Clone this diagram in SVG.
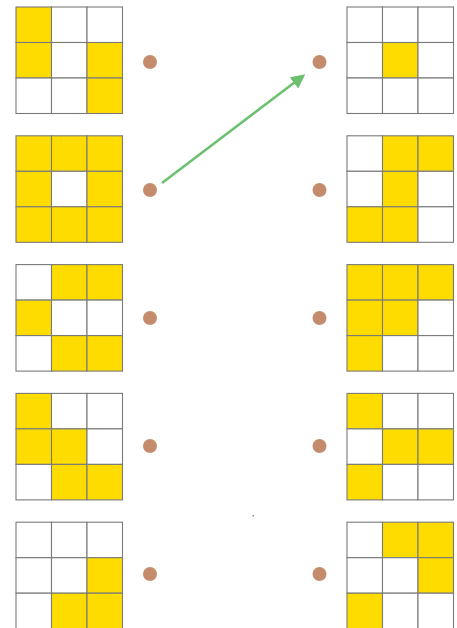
<svg xmlns="http://www.w3.org/2000/svg" width="457" height="628" viewBox="0 0 457 628">
<defs>
<style>
.c{stroke:#7a7a7a;stroke-width:1.1}
.y{fill:#FFDC00}
.w{fill:#ffffff}
.dot{fill:#C48C6C}
.arr{stroke:#6CC070;stroke-width:2.6;fill:none}
</style>
<marker id="ah" viewBox="0 0 10 10" refX="8" refY="5" markerWidth="5.5" markerHeight="5.5" orient="auto" markerUnits="strokeWidth">
<path d="M0,0 L10,5 L0,10 z" fill="#6CC070"/>
</marker>
</defs>
<rect width="457" height="628" fill="#ffffff"/>

<!-- Left grids -->
<g id="L1" transform="translate(16,7)">
<rect class="c y" x="0" y="0" width="35.5" height="35.5"/><rect class="c w" x="35.5" y="0" width="35.5" height="35.5"/><rect class="c w" x="71" y="0" width="35.5" height="35.5"/>
<rect class="c y" x="0" y="35.5" width="35.5" height="35.5"/><rect class="c w" x="35.5" y="35.5" width="35.5" height="35.5"/><rect class="c y" x="71" y="35.5" width="35.5" height="35.5"/>
<rect class="c w" x="0" y="71" width="35.5" height="35.5"/><rect class="c w" x="35.5" y="71" width="35.5" height="35.5"/><rect class="c y" x="71" y="71" width="35.5" height="35.5"/>
</g>
<g id="L2" transform="translate(16,135.8)">
<rect class="c y" x="0" y="0" width="35.5" height="35.5"/><rect class="c y" x="35.5" y="0" width="35.5" height="35.5"/><rect class="c y" x="71" y="0" width="35.5" height="35.5"/>
<rect class="c y" x="0" y="35.5" width="35.5" height="35.5"/><rect class="c w" x="35.5" y="35.5" width="35.5" height="35.5"/><rect class="c y" x="71" y="35.5" width="35.5" height="35.5"/>
<rect class="c y" x="0" y="71" width="35.5" height="35.5"/><rect class="c y" x="35.5" y="71" width="35.5" height="35.5"/><rect class="c y" x="71" y="71" width="35.5" height="35.5"/>
</g>
<g id="L3" transform="translate(16,264.6)">
<rect class="c w" x="0" y="0" width="35.5" height="35.5"/><rect class="c y" x="35.5" y="0" width="35.5" height="35.5"/><rect class="c y" x="71" y="0" width="35.5" height="35.5"/>
<rect class="c y" x="0" y="35.5" width="35.5" height="35.5"/><rect class="c w" x="35.5" y="35.5" width="35.5" height="35.5"/><rect class="c w" x="71" y="35.5" width="35.5" height="35.5"/>
<rect class="c w" x="0" y="71" width="35.5" height="35.5"/><rect class="c y" x="35.5" y="71" width="35.5" height="35.5"/><rect class="c y" x="71" y="71" width="35.5" height="35.5"/>
</g>
<g id="L4" transform="translate(16,393.4)">
<rect class="c y" x="0" y="0" width="35.5" height="35.5"/><rect class="c w" x="35.5" y="0" width="35.5" height="35.5"/><rect class="c w" x="71" y="0" width="35.5" height="35.5"/>
<rect class="c y" x="0" y="35.5" width="35.5" height="35.5"/><rect class="c y" x="35.5" y="35.5" width="35.5" height="35.5"/><rect class="c w" x="71" y="35.5" width="35.5" height="35.5"/>
<rect class="c w" x="0" y="71" width="35.5" height="35.5"/><rect class="c y" x="35.5" y="71" width="35.5" height="35.5"/><rect class="c y" x="71" y="71" width="35.5" height="35.5"/>
</g>
<g id="L5" transform="translate(16,522.2)">
<rect class="c w" x="0" y="0" width="35.5" height="35.5"/><rect class="c w" x="35.5" y="0" width="35.5" height="35.5"/><rect class="c w" x="71" y="0" width="35.5" height="35.5"/>
<rect class="c w" x="0" y="35.5" width="35.5" height="35.5"/><rect class="c w" x="35.5" y="35.5" width="35.5" height="35.5"/><rect class="c y" x="71" y="35.5" width="35.5" height="35.5"/>
<rect class="c w" x="0" y="71" width="35.5" height="35.5"/><rect class="c y" x="35.5" y="71" width="35.5" height="35.5"/><rect class="c y" x="71" y="71" width="35.5" height="35.5"/>
</g>

<!-- Right grids -->
<g id="R1" transform="translate(347,7)">
<rect class="c w" x="0" y="0" width="35.5" height="35.5"/><rect class="c w" x="35.5" y="0" width="35.5" height="35.5"/><rect class="c w" x="71" y="0" width="35.5" height="35.5"/>
<rect class="c w" x="0" y="35.5" width="35.5" height="35.5"/><rect class="c y" x="35.5" y="35.5" width="35.5" height="35.5"/><rect class="c w" x="71" y="35.5" width="35.5" height="35.5"/>
<rect class="c w" x="0" y="71" width="35.5" height="35.5"/><rect class="c w" x="35.5" y="71" width="35.5" height="35.5"/><rect class="c w" x="71" y="71" width="35.5" height="35.5"/>
</g>
<g id="R2" transform="translate(347,135.8)">
<rect class="c w" x="0" y="0" width="35.5" height="35.5"/><rect class="c y" x="35.5" y="0" width="35.5" height="35.5"/><rect class="c y" x="71" y="0" width="35.5" height="35.5"/>
<rect class="c w" x="0" y="35.5" width="35.5" height="35.5"/><rect class="c y" x="35.5" y="35.5" width="35.5" height="35.5"/><rect class="c w" x="71" y="35.5" width="35.5" height="35.5"/>
<rect class="c y" x="0" y="71" width="35.5" height="35.5"/><rect class="c y" x="35.5" y="71" width="35.5" height="35.5"/><rect class="c w" x="71" y="71" width="35.5" height="35.5"/>
</g>
<g id="R3" transform="translate(347,264.6)">
<rect class="c y" x="0" y="0" width="35.5" height="35.5"/><rect class="c y" x="35.5" y="0" width="35.5" height="35.5"/><rect class="c y" x="71" y="0" width="35.5" height="35.5"/>
<rect class="c y" x="0" y="35.5" width="35.5" height="35.5"/><rect class="c y" x="35.5" y="35.5" width="35.5" height="35.5"/><rect class="c w" x="71" y="35.5" width="35.5" height="35.5"/>
<rect class="c y" x="0" y="71" width="35.5" height="35.5"/><rect class="c w" x="35.5" y="71" width="35.5" height="35.5"/><rect class="c w" x="71" y="71" width="35.5" height="35.5"/>
</g>
<g id="R4" transform="translate(347,393.4)">
<rect class="c y" x="0" y="0" width="35.5" height="35.5"/><rect class="c w" x="35.5" y="0" width="35.5" height="35.5"/><rect class="c w" x="71" y="0" width="35.5" height="35.5"/>
<rect class="c w" x="0" y="35.5" width="35.5" height="35.5"/><rect class="c y" x="35.5" y="35.5" width="35.5" height="35.5"/><rect class="c y" x="71" y="35.5" width="35.5" height="35.5"/>
<rect class="c y" x="0" y="71" width="35.5" height="35.5"/><rect class="c w" x="35.5" y="71" width="35.5" height="35.5"/><rect class="c w" x="71" y="71" width="35.5" height="35.5"/>
</g>
<g id="R5" transform="translate(347,522.2)">
<rect class="c w" x="0" y="0" width="35.5" height="35.5"/><rect class="c y" x="35.5" y="0" width="35.5" height="35.5"/><rect class="c y" x="71" y="0" width="35.5" height="35.5"/>
<rect class="c w" x="0" y="35.5" width="35.5" height="35.5"/><rect class="c w" x="35.5" y="35.5" width="35.5" height="35.5"/><rect class="c y" x="71" y="35.5" width="35.5" height="35.5"/>
<rect class="c y" x="0" y="71" width="35.5" height="35.5"/><rect class="c w" x="35.5" y="71" width="35.5" height="35.5"/><rect class="c w" x="71" y="71" width="35.5" height="35.5"/>
</g>

<!-- Dots -->
<g id="dotsL">
<circle class="dot" cx="150" cy="62" r="7"/>
<circle class="dot" cx="150" cy="190" r="7"/>
<circle class="dot" cx="150" cy="318" r="7"/>
<circle class="dot" cx="150" cy="446" r="7"/>
<circle class="dot" cx="150" cy="574" r="7"/>
</g>
<g id="dotsR">
<circle class="dot" cx="319.5" cy="62" r="7"/>
<circle class="dot" cx="319.5" cy="190" r="7"/>
<circle class="dot" cx="319.5" cy="318" r="7"/>
<circle class="dot" cx="319.5" cy="446" r="7"/>
<circle class="dot" cx="319.5" cy="574" r="7"/>
</g>

<!-- Connectors -->
<g id="connectors">
<line class="arr" x1="162" y1="183" x2="303" y2="76" marker-end="url(#ah)"/>
</g>

<rect x="252.5" y="515" width="1.5" height="1.5" fill="#888888"/>
</svg>
